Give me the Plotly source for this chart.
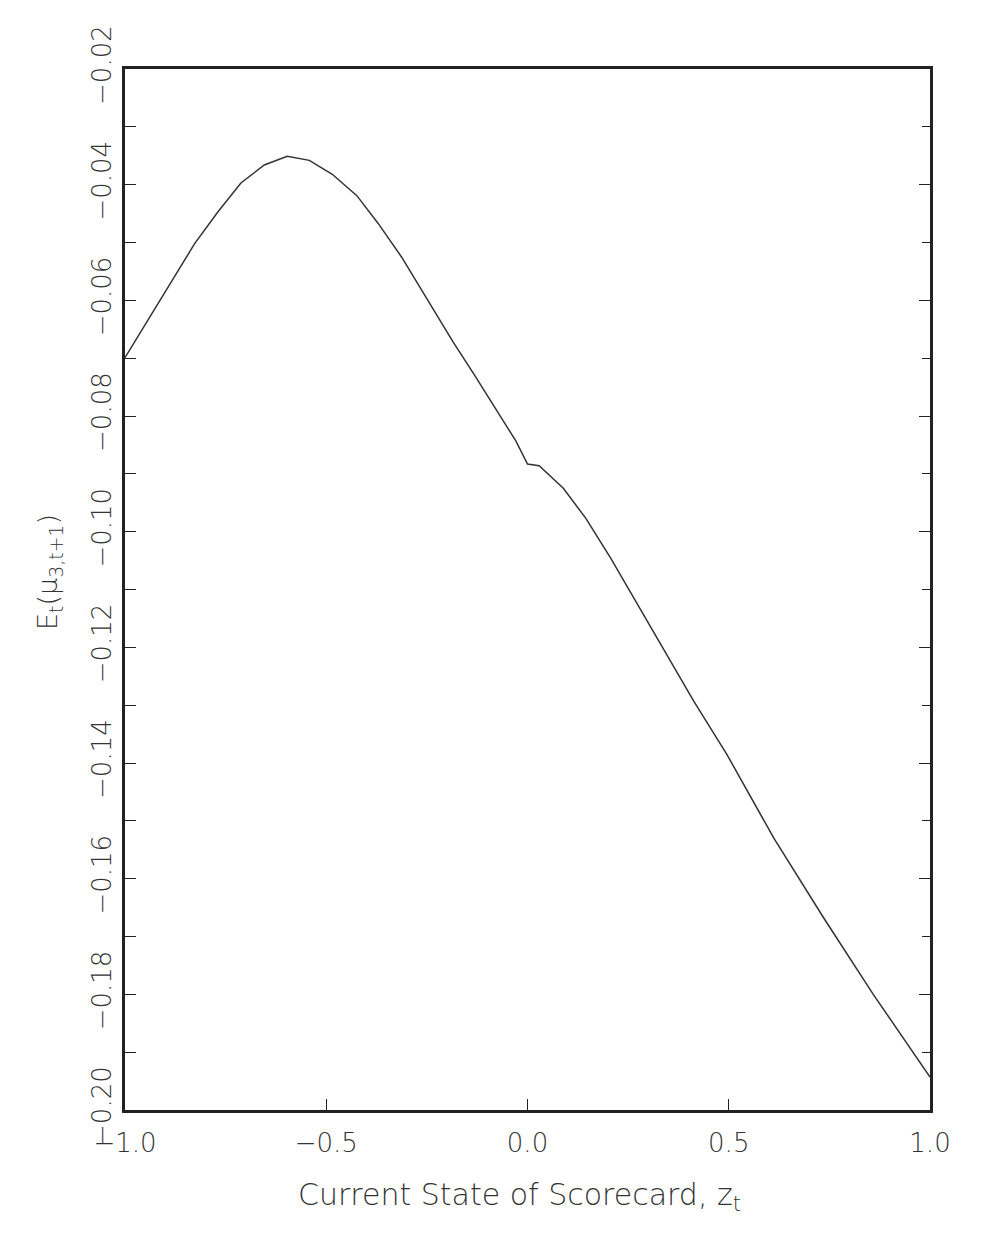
import plotly.graph_objects as go

# Expected skewness vs. current state of scorecard
z_state = [-1.0, -0.827, -0.768, -0.712, -0.654, -0.597, -0.542, -0.485, -0.424, -0.371,
           -0.313, -0.26, -0.185, -0.132, -0.082, -0.029, 0.0, 0.029, 0.089, 0.145,
           0.207, 0.248, 0.331, 0.413, 0.496, 0.558, 0.612, 0.736, 0.859, 1.0]
e_mu3 = [-0.0699, -0.0502, -0.0446, -0.0397, -0.0366, -0.0351, -0.0358, -0.0382, -0.0419, -0.0467,
         -0.0525, -0.0585, -0.0672, -0.0729, -0.0784, -0.0843, -0.0883, -0.0886, -0.0925, -0.0977,
         -0.1046, -0.1095, -0.1196, -0.1293, -0.1386, -0.1463, -0.1530, -0.1668, -0.1800, -0.1943]

x_ticks = [-1.0, -0.5, 0.0, 0.5, 1.0]
x_labels = ['\u22121.0', '\u22120.5', '0.0', '0.5', '1.0']
y_ticks = [-0.20, -0.18, -0.16, -0.14, -0.12, -0.10, -0.08, -0.06, -0.04, -0.02]
y_labels = ['\u22120.20', '\u22120.18', '\u22120.16', '\u22120.14', '\u22120.12',
            '\u22120.10', '\u22120.08', '\u22120.06', '\u22120.04', '\u22120.02']

FONT = dict(family='DejaVu Sans', size=26, color='#333333', weight=200)
AXIS = '#222222'

fig = go.Figure()
fig.add_trace(go.Scatter(x=z_state, y=e_mu3, mode='lines',
                         line=dict(color='#333333', width=1.5), showlegend=False))
# invisible trace to activate the right-hand tick axis
fig.add_trace(go.Scatter(x=[z_state[0]], y=[e_mu3[0]], yaxis='y2', mode='lines',
                         line=dict(width=0), hoverinfo='skip', showlegend=False))

fig.update_layout(
    width=975, height=1239,
    margin=dict(l=117, r=53, t=61, b=137),
    paper_bgcolor='white', plot_bgcolor='white',
    font=FONT,
    xaxis=dict(range=[-1, 1], tickvals=x_ticks, ticktext=x_labels,
               ticks='inside', ticklen=11, tickwidth=1.2, tickcolor=AXIS,
               showline=True, linecolor=AXIS, linewidth=2.5, mirror=True,
               showgrid=False, zeroline=False, tickfont=FONT, ticklabelstandoff=8),
    yaxis=dict(range=[-0.20, -0.02], tickvals=y_ticks, ticktext=y_labels, tickangle=-90,
               ticks='inside', ticklen=11, tickwidth=1.2, tickcolor=AXIS,
               minor=dict(dtick=0.01, ticks='inside', ticklen=11, tickwidth=1.2, tickcolor=AXIS,
                          showgrid=False),
               showline=True, linecolor=AXIS, linewidth=2.5, mirror=True,
               showgrid=False, zeroline=False, tickfont=FONT, ticklabelstandoff=1),
    yaxis2=dict(range=[-0.20, -0.02], overlaying='y', side='right', tickvals=y_ticks,
                showticklabels=False, ticks='inside', ticklen=11, tickwidth=1.2, tickcolor=AXIS,
                minor=dict(dtick=0.01, ticks='inside', ticklen=8, tickwidth=1.2, tickcolor=AXIS,
                           showgrid=False),
                showline=False, showgrid=False, zeroline=False),
)

fig.add_annotation(text='Current State of Scorecard, z<sub>t</sub>', xref='paper', yref='paper',
                   x=0.49, y=-0.083, xanchor='center', yanchor='middle', showarrow=False,
                   font=dict(FONT, size=30))
fig.add_annotation(text='E<sub>t</sub>(\u03bc<sub>3,t+1</sub>)', xref='paper', yref='paper',
                   x=-0.093, y=0.517, xanchor='center', yanchor='middle', textangle=-90,
                   showarrow=False, font=dict(FONT, size=27))

fig.write_html('out.html')
